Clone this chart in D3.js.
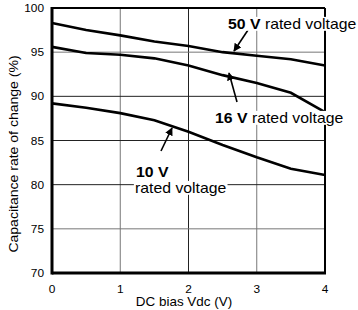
<!DOCTYPE html>
<html>
<head>
<meta charset="utf-8">
<script src="https://cdn.jsdelivr.net/npm/d3@7"></script>
<style>
  body { margin: 0; background: #fff; }
  text { font-family: "Liberation Sans", Arial, sans-serif; fill: #000; }
</style>
</head>
<body>
<svg></svg>
<script>
// DC bias (V) sample points
const biasV = [0, 0.5, 1, 1.5, 2, 2.5, 3, 3.5, 4]

// capacitance rate of change (%) per rated voltage
const v50 = [98.3, 97.5, 96.9, 96.2, 95.7, 95.0, 94.6, 94.2, 93.5]
const v16 = [95.6, 94.9, 94.7, 94.3, 93.5, 92.4, 91.5, 90.4, 88.2]
const v10 = [89.2, 88.7, 88.1, 87.3, 86.0, 84.5, 83.1, 81.8, 81.1]

const xTicks = [0, 1, 2, 3, 4]
const yTicks = [70, 75, 80, 85, 90, 95, 100]

const svg = d3.select("svg")
    .attr("width", 358)
    .attr("height", 310)

const plotL = 52, plotR = 325, plotT = 8, plotB = 273

const x = d3.scaleLinear().domain([0, 4]).range([plotL, plotR])
const y = d3.scaleLinear().domain([70, 100]).range([plotB, plotT])

// grid lines
const vGrid = [1, 2, 3]
const vColor = ["#777", "#222", "#777"]
svg.selectAll("line.vg")
    .data(vGrid)
    .enter()
    .append("line")
    .attr("x1", d => x(d))
    .attr("x2", d => x(d))
    .attr("y1", plotT)
    .attr("y2", plotB)
    .attr("stroke", (d, i) => vColor[i])
    .attr("stroke-width", 1)

const hGrid = [75, 80, 85, 90, 95]
const hColor = ["#777", "#222", "#222", "#222", "#777"]
svg.selectAll("line.hg")
    .data(hGrid)
    .enter()
    .append("line")
    .attr("x1", plotL)
    .attr("x2", plotR)
    .attr("y1", d => y(d))
    .attr("y2", d => y(d))
    .attr("stroke", (d, i) => hColor[i])
    .attr("stroke-width", 1)

// curves
const line = d3.line()
    .x((d, i) => x(biasV[i]))
    .y(d => y(d))

svg.selectAll("path.curve")
    .data([v50, v16, v10])
    .enter()
    .append("path")
    .attr("d", line)
    .attr("fill", "none")
    .attr("stroke", "#000")
    .attr("stroke-width", 2.6)

// frame: top and right thinner
svg.append("line")
    .attr("x1", plotL).attr("x2", plotR).attr("y1", plotT).attr("y2", plotT)
    .attr("stroke", "#000").attr("stroke-width", 2)
svg.append("line")
    .attr("x1", plotR).attr("x2", plotR).attr("y1", plotT).attr("y2", plotB)
    .attr("stroke", "#000").attr("stroke-width", 2)
svg.append("line")
    .attr("x1", plotL).attr("x2", plotL).attr("y1", plotT - 1).attr("y2", plotB + 1.5)
    .attr("stroke", "#000").attr("stroke-width", 3)
svg.append("line")
    .attr("x1", plotL).attr("x2", plotR + 1).attr("y1", plotB).attr("y2", plotB)
    .attr("stroke", "#000").attr("stroke-width", 3)

// tick labels (the source font is a little wide, so stretch it a bit)
svg.selectAll("text.yt")
    .data(yTicks)
    .enter()
    .append("text")
    .attr("transform", d => `translate(44, ${y(d) + 4}) scale(1.08, 1)`)
    .attr("text-anchor", "end")
    .style("font-size", "11px")
    .text(d => d)

svg.selectAll("text.xt")
    .data(xTicks)
    .enter()
    .append("text")
    .attr("transform", d => `translate(${x(d)}, 293) scale(1.08, 1)`)
    .attr("text-anchor", "middle")
    .style("font-size", "11px")
    .text(d => d)

svg.append("text")
    .attr("transform", "translate(184, 306) scale(1.12, 1)")
    .attr("text-anchor", "middle")
    .style("font-size", "12px")
    .text("DC bias Vdc (V)")

svg.append("text")
    .attr("transform", "translate(18, 154) rotate(-90) scale(1.08, 1)")
    .attr("text-anchor", "middle")
    .style("font-size", "13px")
    .text("Capacitance rate of change (%)")

// arrow heads
svg.append("defs")
    .append("marker")
    .attr("id", "arrow")
    .attr("viewBox", "0 0 10 10")
    .attr("refX", 9)
    .attr("refY", 5)
    .attr("markerWidth", 5)
    .attr("markerHeight", 5)
    .attr("orient", "auto")
    .append("path")
    .attr("d", "M0,0 L10,5 L0,10 Z")
    .attr("fill", "#000")

const arrows = [
    [248, 30, 234, 51],
    [237, 102, 229, 73],
    [161, 151, 172, 128]
]
svg.selectAll("line.arrow")
    .data(arrows)
    .enter()
    .append("line")
    .attr("x1", d => d[0])
    .attr("y1", d => d[1])
    .attr("x2", d => d[2])
    .attr("y2", d => d[3])
    .attr("stroke", "#000")
    .attr("stroke-width", 1.6)
    .attr("marker-end", "url(#arrow)")

// labels with white background
function label(xp, yp, bold, rest) {
    const g = svg.append("g")
        .attr("transform", `translate(${xp}, ${yp}) scale(1.13, 1)`)
    const rect = g.append("rect").attr("fill", "#fff")
    const t = g.append("text")
        .style("font-size", "14px")
    if (bold) t.append("tspan").style("font-weight", "bold").text(bold)
    if (rest) t.append("tspan").text(rest)
    const b = t.node().getBBox()
    rect.attr("x", b.x - 1).attr("y", b.y + 1)
        .attr("width", b.width + 2).attr("height", b.height - 2)
}

label(228, 29, "50 V", " rated voltage")
label(215, 123, "16 V", " rated voltage")
label(136, 177, "10 V", null)
label(135, 193, null, "rated voltage")
</script>
</body>
</html>
